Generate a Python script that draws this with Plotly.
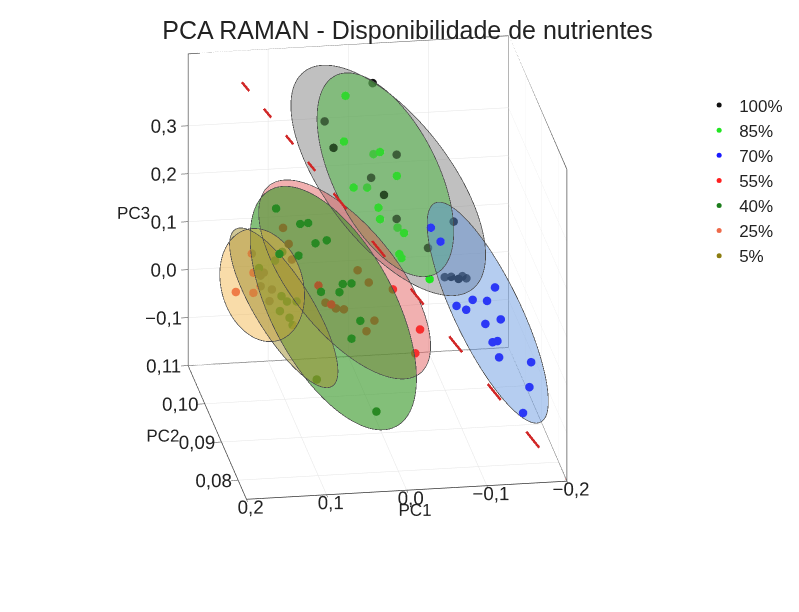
"""PCA RAMAN - gráfico 3D com elipsoides por grupo de disponibilidade."""

import numpy as np
import plotly.graph_objects as go

grupos = ["100%", "85%", "70%", "55%", "40%", "25%", "5%"]

# escores (PC1, PC2, PC3)
pc1_100 = [-0.024, 0.038, 0.029, -0.054, -0.020, -0.034, -0.054, -0.091, -0.121, -0.114, -0.120, -0.127, -0.134, -0.141]
pc2_100 = [0.107, 0.106, 0.105, 0.107, 0.106, 0.105, 0.107, 0.106, 0.105, 0.107, 0.106, 0.105, 0.106, 0.107]
pc3_100 = [0.392, 0.326, 0.278, 0.240, 0.203, 0.174, 0.106, 0.050, 0.110, -0.021, -0.013, -0.010, -0.013, -0.026]

pc1_85 = [0.013, 0.017, -0.026, -0.022, -0.049, 0.007, -0.014, -0.026, -0.026, -0.052, -0.058, -0.050, -0.057, -0.090]
pc2_85 = [0.1055, 0.1045, 0.1035, 0.1055, 0.1045, 0.1035, 0.1055, 0.1045, 0.1035, 0.1055, 0.1045, 0.1035, 0.1055, 0.1045]
pc3_85 = [0.381, 0.294, 0.276, 0.256, 0.216, 0.205, 0.187, 0.152, 0.136, 0.100, 0.096, 0.061, 0.036, -0.003]

pc1_70 = [-0.053, -0.063, -0.133, -0.101, -0.121, -0.085, -0.095, -0.136, -0.121, -0.134, -0.130, -0.134, -0.176, -0.176, -0.166]
pc2_70 = [0.086, 0.085, 0.086, 0.084, 0.085, 0.086, 0.085, 0.084, 0.086, 0.085, 0.086, 0.084, 0.085, 0.086, 0.085]
pc3_70 = [0.255, 0.233, 0.123, 0.116, 0.104, 0.089, 0.088, 0.072, 0.048, 0.019, 0.009, -0.007, -0.029, -0.089, -0.134]

pc1_55 = [0.117, 0.112, 0.106, 0.077, 0.026, 0.010, -0.018, 0.061, 0.064, 0.053, 0.041, 0.005, 0.017, -0.054, -0.046]
pc2_55 = [0.093, 0.092, 0.093, 0.091, 0.092, 0.093, 0.092, 0.091, 0.093, 0.092, 0.093, 0.092, 0.091, 0.093, 0.092]
pc3_55 = [0.215, 0.189, 0.148, 0.107, 0.126, 0.091, 0.082, 0.066, 0.054, 0.049, 0.038, 0.019, 0.006, -0.013, -0.054]

pc1_40 = [0.136, 0.108, 0.096, 0.077, 0.089, 0.108, 0.134, 0.057, 0.042, 0.082, 0.057, 0.033, 0.046, 0.013]
pc2_40 = [0.088, 0.087, 0.088, 0.086, 0.087, 0.088, 0.087, 0.086, 0.088, 0.087, 0.088, 0.087, 0.086, 0.087]
pc3_40 = [0.297, 0.270, 0.263, 0.241, 0.228, 0.196, 0.210, 0.148, 0.132, 0.126, 0.115, 0.061, 0.033, -0.130]

pc1_25 = [0.156, 0.178, 0.154, 0.150, 0.145, 0.147, 0.141, 0.136, 0.154, 0.133]
pc2_25 = [0.093, 0.092, 0.093, 0.092, 0.093, 0.092, 0.093, 0.092, 0.093, 0.092]
pc3_25 = [0.165, 0.095, 0.083, 0.130, 0.118, 0.104, 0.124, 0.072, 0.125, 0.096]

pc1_5 = [0.129, 0.118, 0.121, 0.112, 0.111, 0.100, 0.123, 0.105, 0.077, 0.147]
pc2_5 = [0.092, 0.093, 0.092, 0.093, 0.092, 0.093, 0.092, 0.093, 0.092, 0.093]
pc3_5 = [0.156, 0.165, 0.081, 0.061, 0.035, 0.060, 0.050, 0.011, -0.097, 0.134]

pc1_grupos = [pc1_100, pc1_85, pc1_70, pc1_55, pc1_40, pc1_25, pc1_5]
pc2_grupos = [pc2_100, pc2_85, pc2_70, pc2_55, pc2_40, pc2_25, pc2_5]
pc3_grupos = [pc3_100, pc3_85, pc3_70, pc3_55, pc3_40, pc3_25, pc3_5]

# elipsoides: centro e semi-eixos (em unidades dos PCs)
elip_pc1 = [-0.0436, -0.0355, -0.123, 0.041, 0.066, 0.144, 0.117]
elip_pc2 = [0.107, 0.1048, 0.0855, 0.0925, 0.0873, 0.0925, 0.0925]
elip_pc3 = [0.187, 0.217, 0.075, 0.104, 0.088, 0.102, 0.052]
maior_pc1 = [-0.105, -0.062, -0.066, -0.094, -0.078, -0.018, -0.060]
maior_pc3 = [-0.236, -0.210, -0.232, -0.202, -0.252, -0.113, -0.166]
menor_pc1 = [0.061, 0.058, 0.036, 0.051, 0.068, 0.049, 0.030]
menor_pc3 = [-0.074, -0.044, -0.030, -0.064, -0.054, -0.018, -0.029]
prof_pc2 = [0.002, 0.004, 0.004, 0.004, 0.004, 0.004, 0.004]

# reta de separação (tracejada)
reta_pc1 = [0.146, 0.0945, -0.198]
reta_pc2 = [0.1037, 0.0785, 0.0752]
reta_pc3 = [0.436, 0.422, -0.198]

# limites dos eixos
lim_pc1 = [0.2, -0.2]
lim_pc2 = [0.075, 0.11]
lim_pc3 = [-0.2, 0.45]

cores_pontos = ["#111111", "#22e522", "#1a1aff", "#ff1f1f", "#1c7d1c", "#ee6a4a", "#8c7d10"]
cores_elipses = ["#7f7f7f", "#55b84a", "#5a8fdc", "#e05555", "#3d9a2d", "#f0b040", "#a09030"]
opac_elipses = [0.29, 0.34, 0.26, 0.27, 0.4, 0.26, 0.3]

aspecto = [1.25, 1.45, 1.2875]
olho = [-0.223, -1.420, 0.554]


def eixos_elipsoide(i):
    """Matriz com os três semi-eixos (colunas) do elipsoide i."""
    return np.column_stack([[maior_pc1[i], 0, maior_pc3[i]],
                            [menor_pc1[i], 0, menor_pc3[i]],
                            [0, prof_pc2[i], 0]])


def elipsoide(c, M, n_t=24, n_p=48):
    """Pontos da superfície do elipsoide c + M*s, s na esfera unitária."""
    t, p = np.meshgrid(np.linspace(0, np.pi, n_t), np.linspace(0, 2 * np.pi, n_p))
    t, p = t.flatten(), p.flatten()
    s = np.vstack([np.sin(t) * np.cos(p), np.sin(t) * np.sin(p), np.cos(t)])
    pts = c[:, None] + M @ s
    return pts[0], pts[1], pts[2]


def contorno(c, M, d, n=121):
    """Silhueta do elipsoide vista na direção d (projeção ortográfica)."""
    q = np.linalg.solve(M, d)
    q = q / np.linalg.norm(q)
    ref = np.array([1.0, 0, 0]) if abs(q[0]) < 0.9 else np.array([0, 1.0, 0])
    a = np.cross(q, ref)
    a = a / np.linalg.norm(a)
    b = np.cross(q, a)
    f = np.linspace(0, 2 * np.pi, n)
    s = np.outer(a, np.cos(f)) + np.outer(b, np.sin(f))
    pts = c[:, None] + M @ s
    return pts[0], pts[1], pts[2]


# direção da câmera em unidades dos dados
larguras = [lim_pc1[1] - lim_pc1[0], lim_pc2[1] - lim_pc2[0], lim_pc3[1] - lim_pc3[0]]
direcao = np.array([olho[k] * larguras[k] / aspecto[k] for k in range(3)])

fig = go.Figure()

cx, cy, cz = [], [], []
for i in range(len(grupos)):
    c = np.array([elip_pc1[i], elip_pc2[i], elip_pc3[i]])
    M = eixos_elipsoide(i)
    x, y, z = elipsoide(c, M)
    fig.add_trace(go.Mesh3d(
        x=x, y=y, z=z, alphahull=0, color=cores_elipses[i], opacity=opac_elipses[i],
        flatshading=True, showscale=False, showlegend=False, hoverinfo="skip",
        lighting=dict(ambient=1, diffuse=0, specular=0, roughness=1, fresnel=0)))
    x, y, z = contorno(c, M, direcao)
    cx += list(x) + [None]
    cy += list(y) + [None]
    cz += list(z) + [None]

for i in range(len(grupos)):
    fig.add_trace(go.Scatter3d(
        x=pc1_grupos[i], y=pc2_grupos[i], z=pc3_grupos[i], mode="markers", name=grupos[i],
        marker=dict(size=5, color=cores_pontos[i], line=dict(width=0))))

fig.add_trace(go.Scatter3d(x=cx, y=cy, z=cz, mode="lines", showlegend=False, hoverinfo="skip",
                           opacity=0.99, line=dict(color="#4d4d4d", width=1.5)))

# a reta entra no passe transparente para ficar por cima das elipsoides
fig.add_trace(go.Scatter3d(
    x=reta_pc1, y=reta_pc2, z=reta_pc3, mode="lines", showlegend=False, hoverinfo="skip",
    opacity=0.99, line=dict(color="#d02525", width=5, dash="longdash")))

# moldura das três paredes do fundo (parede PC2 máx, chão e parede PC1 mín)
x0, x1 = lim_pc1
y0, y1 = lim_pc2
z0, z1 = lim_pc3
arestas = [
    [(x0, y1, z0), (x1, y1, z0)], [(x0, y1, z1), (x1, y1, z1)],
    [(x0, y1, z0), (x0, y1, z1)], [(x1, y1, z0), (x1, y1, z1)],
    [(x1, y0, z0), (x1, y1, z0)], [(x1, y0, z1), (x1, y1, z1)],
    [(x1, y0, z0), (x1, y0, z1)], [(x0, y0, z0), (x1, y0, z0)],
    [(x0, y0, z0), (x0, y1, z0)],
]
mx, my, mz = [], [], []
for a, b in arestas:
    mx += [a[0], b[0], None]
    my += [a[1], b[1], None]
    mz += [a[2], b[2], None]
fig.add_trace(go.Scatter3d(x=mx, y=my, z=mz, mode="lines", showlegend=False, hoverinfo="skip",
                           line=dict(color="#555555", width=1.5)))

eixo = dict(showbackground=False, gridcolor="#e4e4e4", gridwidth=1, showline=True,
            linecolor="#333333", linewidth=1.5, ticks="outside", ticklen=7, tickcolor="#333333",
            zeroline=False, showspikes=False, tickangle=0, tickfont=dict(size=15, color="#222222"),
            title_font=dict(size=17, color="#222222"))

fig.update_layout(
    width=799, height=612,
    margin=dict(l=0, r=0, t=0, b=0),
    paper_bgcolor="white",
    separators=", ",
    font=dict(family="Liberation Sans, Arial, sans-serif", color="#222222"),
    title=dict(text="PCA RAMAN - Disponibilidade de nutrientes", x=0.5, y=0.963,
               xanchor="center", yanchor="middle", font=dict(size=25, color="#222222")),
    legend=dict(x=0.865, y=0.87, xanchor="left", yanchor="top", font=dict(size=17),
                bgcolor="rgba(0,0,0,0)"),
    scene=dict(
        domain=dict(x=[0, 0.925], y=[0.152, 1.0]),
        xaxis=dict(eixo, title=dict(text="PC1"), range=lim_pc1,
                   tickvals=[-0.2, -0.1, 0.0, 0.1, 0.2], tickformat=".1f"),
        yaxis=dict(eixo, title=dict(text="PC2"), range=lim_pc2,
                   tickvals=[0.08, 0.09, 0.10, 0.11], tickformat=".2f"),
        zaxis=dict(eixo, title=dict(text="PC3"), range=lim_pc3,
                   tickvals=[-0.1, 0.0, 0.1, 0.2, 0.3], tickformat=".1f"),
        aspectmode="manual",
        aspectratio=dict(x=aspecto[0], y=aspecto[1], z=aspecto[2]),
        camera=dict(projection=dict(type="orthographic"),
                    eye=dict(x=olho[0], y=olho[1], z=olho[2]),
                    up=dict(x=0, y=0, z=1), center=dict(x=0, y=0, z=0)),
    ),
)

fig.write_html("out.html")
